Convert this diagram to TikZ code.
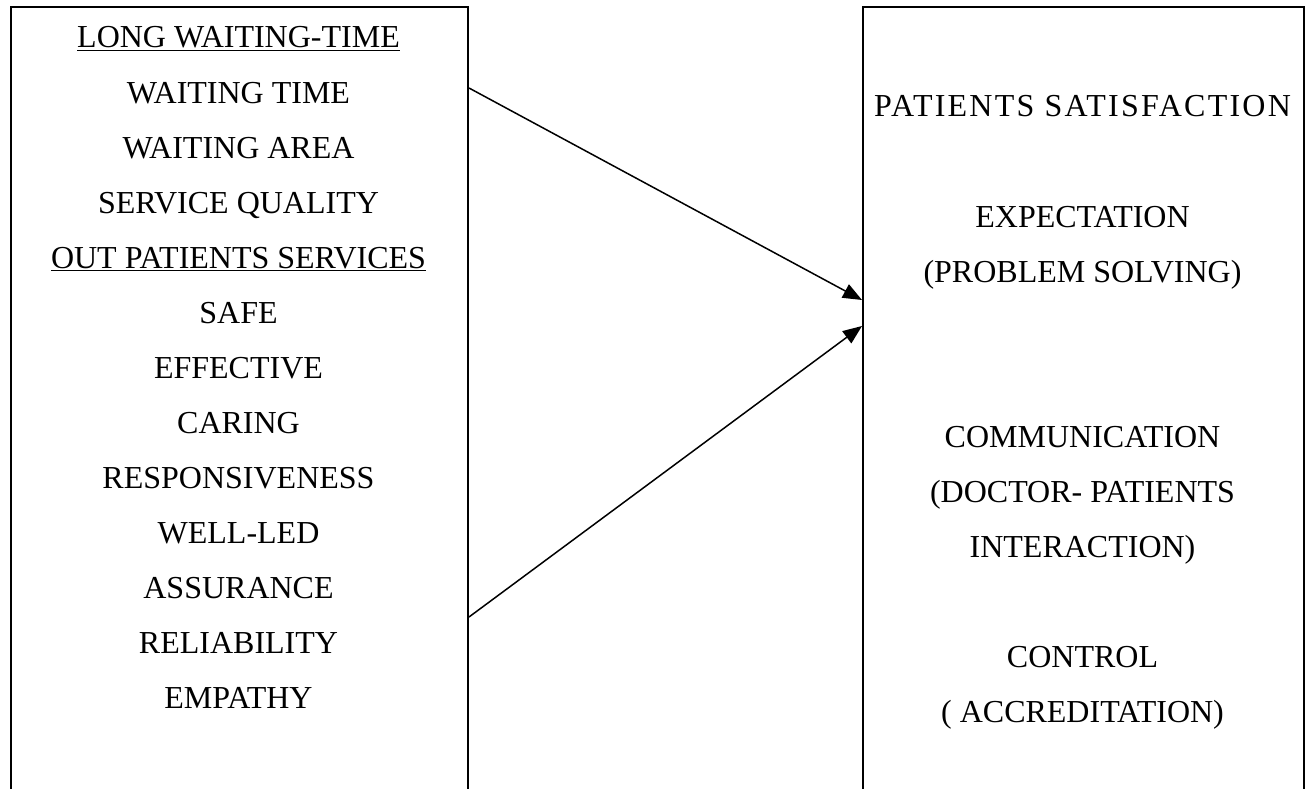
\documentclass[tikz,border=0pt]{standalone}
\usepackage{fontspec}
\setmainfont{Liberation Serif}
\usepackage{tikz}
\usetikzlibrary{arrows.meta, positioning, calc}
\definecolor{mydark}{RGB}{0,0,0}
\tikzset{
  box/.style={rectangle, draw=mydark, line width=2pt, anchor=north west,
    inner sep=0pt},
  item/.style={anchor=base, inner sep=0pt, color=mydark,
    font=\fontsize{32}{38}\selectfont},
  arrow/.style={-{Triangle[length=19pt, width=15pt]}, line width=1.5pt, color=mydark}
}

\begin{document}
\begin{tikzpicture}[x=1pt, y=-1pt]
  \useasboundingbox (0,0) rectangle (1308,789);

  % Boxes (bottom edges run off the page)
  \node[box, minimum width=457pt, minimum height=800pt] (factors) at (10,6) {};
  \node[box, minimum width=441pt, minimum height=800pt] (outcome) at (862,6) {};

  % Left column
  \foreach \txt [count=\i] in {\underline{LONG WAITING-TIME}, WAITING TIME,
      WAITING AREA, SERVICE QUALITY, \underline{OUT PATIENTS SERVICES}, SAFE,
      EFFECTIVE, CARING, RESPONSIVENESS, WELL-LED, ASSURANCE, RELIABILITY, EMPATHY}
    \node[item] (left\i) at (238.5, {48+55*(\i-1)}) {\txt};

  % Right column
  \node[item] (sat) at (1082.5,117) {\addfontfeature{LetterSpace=7}PATIENTS SATISFACTION};
  \node[item] (expect) at (1082.5,227) {EXPECTATION};
  \node[item] (solve) at (1082.5,282) {(PROBLEM SOLVING)};
  \node[item] (comm) at (1082.5,447) {COMMUNICATION};
  \node[item] (doctor) at (1082.5,502) {(DOCTOR- PATIENTS};
  \node[item] (inter) at (1082.5,557) {INTERACTION)};
  \node[item] (control) at (1082.5,667) {CONTROL};
  \node[item] (accr) at (1082.5,722) {( ACCREDITATION)};

  % Arrows
  \coordinate (upfrom) at ($(factors.north east)+(0,82)$);
  \coordinate (lowfrom) at ($(factors.north east)+(0,611)$);
  \coordinate (upto) at ($(outcome.north west)+(0,294)$);
  \coordinate (lowto) at ($(outcome.north west)+(0,320)$);
  \draw[arrow] (upfrom) -- (upto);
  \draw[arrow] (lowfrom) -- (lowto);
\end{tikzpicture}
\end{document}
